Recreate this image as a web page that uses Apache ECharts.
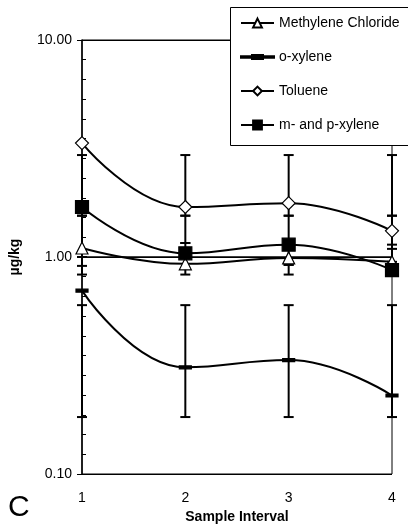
<!DOCTYPE html>
<html>
<head>
<meta charset="utf-8">
<script src="https://cdn.jsdelivr.net/npm/echarts@6/dist/echarts.min.js"></script>
<style>
  html, body { margin: 0; padding: 0; background: #fff; }
  #main { width: 408px; height: 524px; }
</style>
</head>
<body>
<div id="main"></div>
<script>
// sample intervals
var categories = ['1', '2', '3', '4'];

// mean values, ug/kg
var methylene = [1.10, 0.93, 0.99, 0.95];
var oXylene = [0.70, 0.31, 0.335, 0.23];
var toluene = [3.35, 1.70, 1.77, 1.32];
var mpXylene = [1.70, 1.04, 1.14, 0.87];

// error bars [low, high] per interval
var tolueneErr = [[1.55, 2.95], [1.55, 2.95], [1.55, 2.95], [1.55, 2.95]];
var mpXyleneErr = [[0.91, 1.55], [1.16, 1.55], [0.92, 1.55], [1.09, 1.55]];
var methyleneErr = [[0.83, 1.00], [0.83, 1.16], [0.83, 0.92], [0.95, 1.14]];
var oXyleneErr = [[0.183, 0.60], [0.183, 0.60], [0.183, 0.60], [0.183, 0.60]];

var FONT = 'Liberation Sans, Arial, sans-serif';

var chart = echarts.init(document.getElementById('main'));

var errData = function (arr) {
    return arr.map(function (d, i) { return [i, d[0], d[1]]; });
};

var renderErr = function (params, api) {
    var lo = api.coord([api.value(0), api.value(1)]);
    var hi = api.coord([api.value(0), api.value(2)]);
    var w = 5;
    var st = { stroke: '#000', lineWidth: 2 };
    return {
        type: 'group',
        children: [
            { type: 'line', shape: { x1: lo[0], y1: lo[1], x2: hi[0], y2: hi[1] }, style: st },
            { type: 'line', shape: { x1: hi[0] - w, y1: hi[1], x2: hi[0] + w, y2: hi[1] }, style: st },
            { type: 'line', shape: { x1: lo[0] - w, y1: lo[1], x2: lo[0] + w, y2: lo[1] }, style: st }
        ]
    };
};

var errSeries = function (arr) {
    return {
        type: 'custom',
        renderItem: renderErr,
        data: errData(arr),
        encode: { x: 0, y: [1, 2] },
        z: 1,
        silent: true
    };
};

var lineSeries = function (name, data, symbol, size, fill) {
    return {
        name: name,
        type: 'line',
        data: data,
        smooth: 0.45,
        symbol: symbol,
        symbolSize: size,
        symbolKeepAspect: true,
        showAllSymbol: true,
        lineStyle: { color: '#000', width: 2 },
        itemStyle: { color: fill, borderColor: '#000', borderWidth: 1.2 },
        z: 3
    };
};

var option = {
    animation: false,
    backgroundColor: '#fff',
    textStyle: { fontFamily: FONT },
    title: {
        text: 'C',
        left: 3,
        top: 488,
        textStyle: { fontSize: 30, fontWeight: 'normal', color: '#000', fontFamily: FONT }
    },
    grid: {
        left: 82, right: 16, top: 40, bottom: 50,
        outerBoundsMode: 'none',
        show: true, borderColor: '#000', borderWidth: 1
    },
    // legend frame, runs off the right edge like the original
    graphic: [{
        type: 'rect',
        left: 230,
        top: 7,
        z: 3,
        silent: true,
        shape: { width: 220, height: 138 },
        style: { fill: '#fff', stroke: '#000', lineWidth: 1 }
    }],
    legend: {
        orient: 'vertical',
        left: 230,
        top: 7,
        z: 4,
        padding: [9, 10, 12, 10],
        itemGap: 20,
        itemWidth: 33,
        itemHeight: 11,
        textStyle: { fontSize: 14, color: '#000', fontFamily: FONT },
        data: [
            'Methylene Chloride',
            { name: 'o-xylene', icon: 'path://M0 4.75H33V6.25H0Z M11 3.5H22V7.5H11Z' },
            'Toluene',
            'm- and p-xylene'
        ]
    },
    xAxis: {
        type: 'category',
        data: categories,
        boundaryGap: false,
        name: 'Sample Interval',
        nameLocation: 'middle',
        nameGap: 33,
        nameTextStyle: { fontSize: 14, fontWeight: 'bold', color: '#000', fontFamily: FONT },
        axisLine: { lineStyle: { color: '#000', width: 1.5 } },
        axisTick: { alignWithLabel: true, length: 5, lineStyle: { color: '#000' } },
        axisLabel: { fontSize: 14, color: '#000', margin: 17, fontFamily: FONT },
        splitLine: { show: false }
    },
    yAxis: [{
        type: 'log',
        logBase: 10,
        min: 0.1,
        max: 10,
        name: 'µg/kg',
        nameLocation: 'middle',
        nameGap: 60,
        nameRotate: 90,
        nameTextStyle: { fontSize: 14, fontWeight: 'bold', color: '#000', fontFamily: FONT },
        axisLine: { show: true, lineStyle: { color: '#000', width: 1.5 } },
        axisTick: { show: true, length: 5, lineStyle: { color: '#000' } },
        axisLabel: {
            fontSize: 14, color: '#000', margin: 10, fontFamily: FONT,
            formatter: function (v) { return Number(v).toFixed(2); }
        },
        splitLine: { show: true, lineStyle: { color: '#000', width: 1 } }
    }, {
        // tick-only helper axis in log10 units for evenly spaced minor ticks
        type: 'value',
        position: 'left',
        min: -1,
        max: 1,
        interval: 1,
        axisLine: { show: false },
        axisTick: { show: true, inside: true, length: 0, lineStyle: { color: '#000', width: 0 } },
        minorTick: { show: true, splitNumber: 11, length: 4, lineStyle: { color: '#000' } },
        axisLabel: { show: false },
        splitLine: { show: false }
    }],
    series: [
        errSeries(tolueneErr),
        errSeries(mpXyleneErr),
        errSeries(methyleneErr),
        errSeries(oXyleneErr),
        lineSeries('Methylene Chloride', methylene, 'triangle', 12, '#fff'),
        lineSeries('o-xylene', oXylene, 'path://M0 0H12V3H0Z', 12, '#000'),
        lineSeries('Toluene', toluene, 'diamond', 13, '#fff'),
        lineSeries('m- and p-xylene', mpXylene, 'rect', 13, '#000')
    ]
};

chart.setOption(option);
window.onresize = chart.resize;
</script>
</body>
</html>
